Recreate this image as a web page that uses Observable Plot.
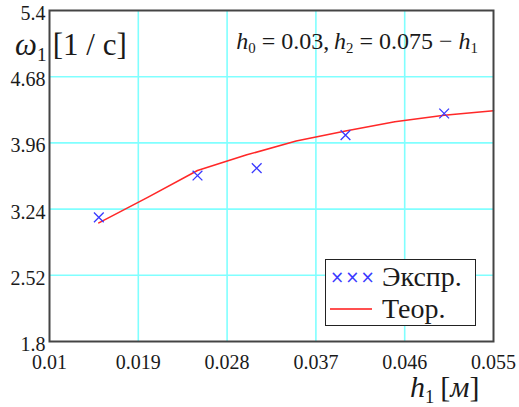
<!DOCTYPE html>
<html>
<head>
<meta charset="utf-8">
<script src="https://cdn.jsdelivr.net/npm/d3@7"></script>
<script src="https://cdn.jsdelivr.net/npm/@observablehq/plot@0.6"></script>
<style>
  body { margin: 0; background: white; }
  #wrap { position: relative; width: 519px; height: 407px; color: #1a1a1a; }
  #wrap, #wrap div, #wrap span, #wrap svg, #wrap svg text { font-family: "Liberation Serif", "DejaVu Serif", serif !important; }
  #wrap svg text { font-size: 20px !important; }
  #wrap svg { position: absolute; left: 0; top: 0; }
  .ov { position: absolute; white-space: nowrap; line-height: 1; }
  sub { font-size: 0.62em; vertical-align: -0.3em; }
  #legend { position: absolute; left: 325px; top: 259px; width: 151px; height: 67px; border: 1.5px solid #222; background: white; box-sizing: border-box; }
  .lrow { position: absolute; left: 4px; height: 30px; display: flex; align-items: center; font-size: 28px; }
  #wrap .sym { font-family: "DejaVu Sans", sans-serif !important; }
</style>
</head>
<body>
<div id="wrap"></div>
<script>
// Data
const expX = [0.015, 0.025, 0.031, 0.040, 0.050];
const expY = [3.15, 3.605, 3.685, 4.045, 4.28];
const theoX = [0.015, 0.020, 0.025, 0.030, 0.035, 0.040, 0.045, 0.050, 0.055];
const theoY = [3.09, 3.37, 3.66, 3.83, 3.98, 4.09, 4.19, 4.26, 4.31];
const xTicks = [0.01, 0.019, 0.028, 0.037, 0.046, 0.055];
const xTickLabels = ["0.01", "0.019", "0.028", "0.037", "0.046", "0.055"];
const yTicks = [1.8, 2.52, 3.24, 3.96, 4.68, 5.4];
const yTickLabels = ["1.8", "2.52", "3.24", "3.96", "4.68", "5.4"];

const exp = expX.map((x, i) => ({x, y: expY[i]}));
const theo = theoX.map((x, i) => ({x, y: theoY[i]}));

const chart = Plot.plot({
  width: 519,
  height: 407,
  marginLeft: 49,
  marginRight: 26,
  marginTop: 10,
  marginBottom: 66,
  style: {background: "white", overflow: "visible"},
  x: {domain: [0.01, 0.055], label: null},
  y: {domain: [1.8, 5.4], label: null},
  marks: [
    Plot.gridX(xTicks.slice(1, -1), {stroke: "#80ffff", strokeOpacity: 1, strokeWidth: 1.6}),
    Plot.gridY(yTicks.slice(1, -1), {stroke: "#80ffff", strokeOpacity: 1, strokeWidth: 1.6}),
    Plot.axisX(xTicks, {tickSize: 0, tickPadding: 13, tickFormat: (d, i) => xTickLabels[i], label: null, fill: "#1a1a1a"}),
    Plot.axisY(yTicks, {tickSize: 0, tickPadding: 4, dy: 3, tickFormat: (d, i) => yTickLabels[i], label: null, fill: "#1a1a1a"}),
    Plot.line(theo, {x: "x", y: "y", stroke: "#ff2828", strokeWidth: 1.6}),
    Plot.dot(exp, {x: "x", y: "y", symbol: "times", r: 4.5, stroke: "#3a3aff", strokeWidth: 1.3}),
    Plot.frame({stroke: "#444", strokeWidth: 2})
  ]
});

const wrap = document.getElementById("wrap");
wrap.appendChild(chart);

function ov(html, style) {
  const d = document.createElement("div");
  d.className = "ov";
  d.innerHTML = html;
  Object.assign(d.style, style);
  wrap.appendChild(d);
  return d;
}

// y axis title
ov('<i>ω</i><sub>1</sub>&thinsp;[1 / с]', {left: "15px", top: "29px", fontSize: "31px"});
// annotation
ov('<i>h</i><sub>0</sub>&nbsp;=&nbsp;0.03,&thinsp;<i>h</i><sub>2</sub>&nbsp;=&nbsp;0.075&nbsp;−&nbsp;<i>h</i><sub>1</sub>', {right: "41px", top: "29px", fontSize: "24px"});
// x axis title
ov('<i>h</i><sub>1</sub>&thinsp;[<i>м</i>]', {left: "410px", top: "372px", fontSize: "30px"});

// legend
const lg = document.createElement("div");
lg.id = "legend";
lg.innerHTML =
  '<div class="lrow" style="top:2px"><span class="sym" style="color:#3a3aff;font-size:17px;letter-spacing:1px;width:52px">×××</span><span>Экспр.</span></div>' +
  '<div class="lrow" style="top:34px"><span style="display:inline-block;width:42px;height:0;border-top:2px solid #ff5050;margin-right:10px"></span><span>Теор.</span></div>';
wrap.appendChild(lg);
</script>
</body>
</html>
